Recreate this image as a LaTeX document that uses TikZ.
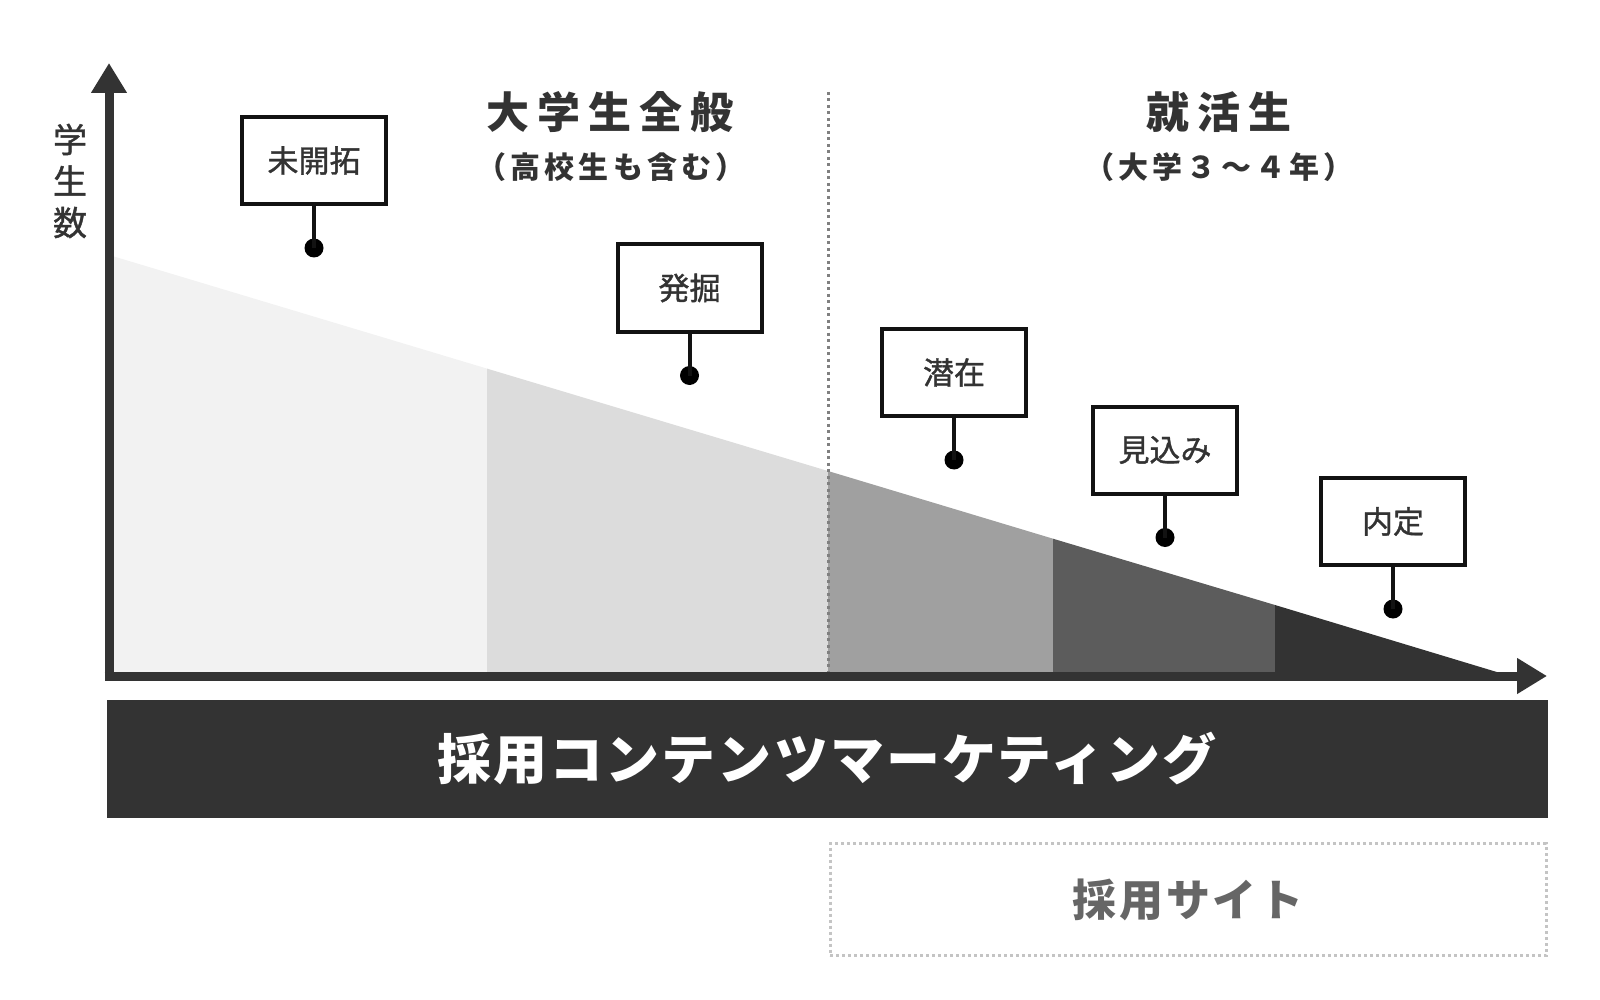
\documentclass[tikz,border=0pt]{standalone}
\usepackage{fontspec}
\setmainfont{Noto Sans CJK JP}
\newfontfamily\medfont[FakeBold=1.2]{Noto Sans CJK JP}
\newfontfamily\hdfont[LetterSpace=19]{Noto Sans CJK JP}
\newfontfamily\subfont[LetterSpace=14]{Noto Sans CJK JP}
\newfontfamily\bannerfont[LetterSpace=4]{Noto Sans CJK JP}
\newfontfamily\sitefont[LetterSpace=6]{Noto Sans CJK JP}
\usetikzlibrary{arrows.meta}
\definecolor{ink}{HTML}{333333}
\definecolor{segA}{HTML}{F2F2F2}
\definecolor{segB}{HTML}{DCDCDC}
\definecolor{segC}{HTML}{A0A0A0}
\definecolor{segD}{HTML}{5C5C5C}
\definecolor{segE}{HTML}{333333}
\definecolor{dotgray}{HTML}{808080}
\definecolor{boxgray}{HTML}{C4C4C4}
\definecolor{sitegray}{HTML}{666666}
\tikzset{
  axisline/.style={draw=ink, line width=9pt, -{Triangle[length=30pt,width=34pt]}},
  stagebox/.style={draw=black!93, line width=4pt, fill=white, minimum width=144pt, minimum height=87pt, inner sep=0pt, text=ink, font=\medfont\fontsize{31}{35}\selectfont},
  stagedot/.style={circle, fill=black, minimum size=19pt, inner sep=0pt},
  stem/.style={draw=black!93, line width=4pt},
  heading/.style={text=ink, font=\hdfont\bfseries\fontsize{43}{48}\selectfont, inner sep=0pt},
  subheading/.style={text=ink, font=\subfont\bfseries\fontsize{30}{34}\selectfont, inner sep=0pt},
}
\begin{document}
\begin{tikzpicture}[x=1pt,y=-1pt]
\useasboundingbox (0,0) rectangle (1600,1000);
% funnel segments
\fill[segA] (109,676) -- (109,255) -- (487,368.6) -- (487,676) -- cycle;
\fill[segB] (487,676) -- (487,368.6) -- (828,471) -- (828,676) -- cycle;
\fill[segC] (828,676) -- (828,471) -- (1053,538.7) -- (1053,676) -- cycle;
\fill[segD] (1053,676) -- (1053,538.7) -- (1275,605) -- (1275,676) -- cycle;
\fill[segE] (1275,676) -- (1275,605) -- (1510,676) -- cycle;
% divider
\coordinate (divtop) at (828,92);
\coordinate (divbot) at (828,672);
\draw[dotgray, line width=3pt, dash pattern=on 3pt off 3.5pt] (divtop) -- (divbot);
% axes
\coordinate (yfoot) at (109,680.5);
\coordinate (ytip) at (109,63);
\coordinate (xfoot) at (104.5,676);
\coordinate (xtip) at (1547,676);
\draw[axisline] (yfoot) -- (ytip);
\draw[axisline] (xfoot) -- (xtip);
% y label
\node[text=ink, font=\medfont\fontsize{34}{41.5}\selectfont, align=center, inner sep=0pt] (ylabel) at (70,181) {学\\生\\数};
% headings
\node[heading] (h1) at (610,112) {大学生全般};
\node[subheading] (s1) at (611,167) {（高校生も含む）};
\node[heading] (h2) at (1219,112) {就活生};
\node[subheading] (s2) at (1219,167) {（大学３～４年）};
% stage boxes
\node[stagebox] (b1) at (314,160.5) {未開拓};
\node[stagebox] (b2) at (689.5,288) {発掘};
\node[stagebox] (b3) at (954,372.5) {潜在};
\node[stagebox] (b4) at (1165,450) {見込み};
\node[stagebox] (b5) at (1393,521.5) {内定};
\node[stagedot] (d1) at (314,248) {};
\node[stagedot] (d2) at (689.5,375.5) {};
\node[stagedot] (d3) at (954,460) {};
\node[stagedot] (d4) at (1165,537.5) {};
\node[stagedot] (d5) at (1393,609) {};
\draw[stem] (b1.south) -- (d1.center);
\draw[stem] (b2.south) -- (d2.center);
\draw[stem] (b3.south) -- (d3.center);
\draw[stem] (b4.south) -- (d4.center);
\draw[stem] (b5.south) -- (d5.center);
% banner
\node[fill=ink, minimum width=1441pt, minimum height=118pt, inner sep=0pt, text=white,
  font=\bannerfont\bfseries\fontsize{54}{60}\selectfont] (banner) at (827,759) {採用コンテンツマーケティング};
% recruitment site box
\node[draw=boxgray, line width=3pt, dash pattern=on 3pt off 3pt, minimum width=716pt, minimum height=112pt, inner sep=0pt,
  text=sitegray, font=\sitefont\bfseries\fontsize{44}{50}\selectfont] (site) at (1188,899.5) {採用サイト};
\end{tikzpicture}
\end{document}
